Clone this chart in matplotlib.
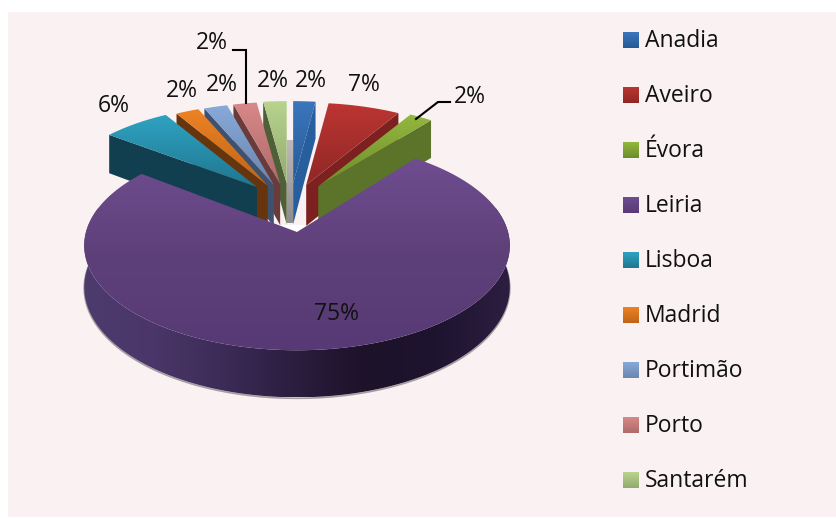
import numpy as np
import matplotlib
matplotlib.use("Agg")
import matplotlib.pyplot as plt
from matplotlib.colors import LinearSegmentedColormap as LSC
from matplotlib.patches import Rectangle, Polygon

categories = ["Anadia", "Aveiro", "Évora", "Leiria", "Lisboa", "Madrid", "Portimão", "Porto", "Santarém"]
values = [2.0, 6.5, 2.1, 74.8, 6.2, 2.1, 2.1, 2.1, 2.1]
pct_labels = ["2%", "7%", "2%", "75%", "6%", "2%", "2%", "2%", "2%"]
top_light = ["#3B76BC", "#BC3532", "#93B83E", "#6F4D90", "#2FA3C2", "#EE8224", "#88A9D9", "#D88888", "#B8D48E"]
top_dark = ["#265A96", "#8F2725", "#6C8C2C", "#573A75", "#1F7690", "#BE6417", "#6A86AE", "#AE6A6A", "#93AA70"]
wall = ["#275E9E", "#7C2120", "#5B742A", "#3A2A52", "#123F4F", "#66350E", "#3E5270", "#693B3B", "#4F6038"]

START = 90.0
A, B, K = 211.0, 103.0, 0.129
DEPTH = 41.0
R_SMALL = 0.89
STRETCH_SMALL = 1.06
FAN_X = 50.0
FAN_Y = 6.0
CENTER = (290.0, 183.0)
LEIRIA_CENTER = (297.0, 232.0)

plt.rcParams["font.family"] = ["Open Sans", "DejaVu Sans"]
fig = plt.figure(figsize=(8.37, 5.18), dpi=100, facecolor="white")
ax = fig.add_axes([0, 0, 1, 1])
ax.set_axis_off()
ax.add_patch(Rectangle((8, 12), 829, 505, fc="#F9F1F2", ec="none", zorder=0))

z = [1.0]


def nz():
    z[0] += 0.01
    return z[0]


def project(theta, r, c, depth=0.0, stretch=1.0):
    th = np.radians(theta)
    X, Y = r * np.cos(th), r * np.sin(th)
    w = 1 + K * Y
    return np.column_stack([c[0] + stretch * A * X / w, c[1] - B * Y / w + depth * DEPTH / w])


def grad_fill(poly, colors, vertical=True):
    poly = np.asarray(poly, dtype=float)
    x0, y0 = poly.min(axis=0)
    x1, y1 = poly.max(axis=0)
    cmap = LSC.from_list("g", colors)
    g = np.linspace(0, 1, 256)
    g = g[:, None] if vertical else g[None, :]
    zo = nz()
    im = ax.imshow(g, cmap=cmap, extent=[x0, x1, y1, y0], aspect="auto", zorder=zo, interpolation="bilinear")
    p = Polygon(poly, closed=True, transform=ax.transData, fc="none", ec="none")
    ax.add_patch(p)
    im.set_clip_path(p)


fracs = np.array(values) / sum(values) * 360
edges = START - np.concatenate([[0], np.cumsum(fracs)])
mids = (edges[:-1] + edges[1:]) / 2
small = [i for i in range(len(values)) if categories[i] != "Leiria"]
order = sorted(small, key=lambda i: abs((mids[i] % 360) - 90))

# shadow seen through the gap at the back of the pie
grad_fill([(287, 140), (293, 140), (293, 223), (287, 223)], ["#BDB9BA", "#8E8C8C"])

for i in order:
    a0, a1 = edges[i], edges[i + 1]
    mid = mids[i] % 360
    cm = np.cos(np.radians(mid))
    c = (CENTER[0] + FAN_X * cm, CENTER[1] + FAN_Y * abs(cm))
    arc = project(np.linspace(a0, a1, 30), R_SMALL, c, stretch=STRETCH_SMALL)
    tip = np.array([c])
    # the exposed cut face is the one looking towards the viewer
    ang = a1 if mid < 90 else a0
    outer = project(np.array([ang]), R_SMALL, c, stretch=STRETCH_SMALL)
    face = np.vstack([tip, outer, outer + [0, DEPTH / (1 + K * R_SMALL * np.sin(np.radians(ang)))], tip + [0, DEPTH]])
    ax.add_patch(Polygon(face, closed=True, fc=wall[i], ec="none", zorder=nz()))
    grad_fill(np.vstack([tip, arc]), [top_light[i], top_dark[i]])

# pale notch under the tip of Leiria
ax.add_patch(Polygon([(280, 225), (307, 225), (297, 232)], closed=True, fc="white", ec="none", zorder=nz()))

# Leiria, pulled towards the viewer
li = categories.index("Leiria")
th = np.linspace(edges[li], edges[li + 1], 300)
arc = project(th, 1.0, LEIRIA_CENTER)
front = th[(np.sin(np.radians(th)) < 0.25)]
ftop = project(front, 1.0, LEIRIA_CENTER)
fbot = project(front, 1.0, LEIRIA_CENTER, 1.0)
ax.plot(fbot[:, 0], fbot[:, 1] + 1.0, color="#8f8a8c", lw=1.2, alpha=0.8, zorder=nz())
grad_fill(np.vstack([ftop, fbot[::-1]]),
          ["#4E3B6E", "#4A3668", "#3B2B56", "#2A1D3E", "#1C1229", "#1E1430", "#2C1E40"], vertical=False)
grad_fill(np.vstack([[LEIRIA_CENTER], arc]), [top_light[li], "#5E4079", top_dark[li]])

# percentage labels
label_xy = {"Anadia": (311, 81), "Aveiro": (364, 85), "Évora": (470, 97), "Leiria": (337, 314),
            "Lisboa": (114, 106), "Madrid": (182, 91), "Portimão": (222, 85), "Porto": (212, 43),
            "Santarém": (273, 81)}
for cat, p in zip(categories, pct_labels):
    x, y = label_xy[cat]
    ax.text(x, y, p, ha="center", va="center", fontsize=16.5, color="#111111", zorder=50)
ax.plot([233, 246, 246], [50, 50, 103], color="black", lw=1.5, zorder=51, solid_joinstyle="miter")
ax.plot([416, 438, 450], [119, 102, 102], color="black", lw=1.5, zorder=51, solid_joinstyle="miter")

# legend
for n, cat in enumerate(categories):
    y = 32 + 55 * n
    sq = [(623, y), (639, y), (639, y + 16), (623, y + 16)]
    grad_fill(sq, [top_light[n], top_dark[n]])
    ax.text(645, y + 9, cat, ha="left", va="center", fontsize=16.5, color="#111111", zorder=50)

ax.set_xlim(0, 837)
ax.set_ylim(518, 0)
fig.savefig("out.png", dpi=100, facecolor="white")
